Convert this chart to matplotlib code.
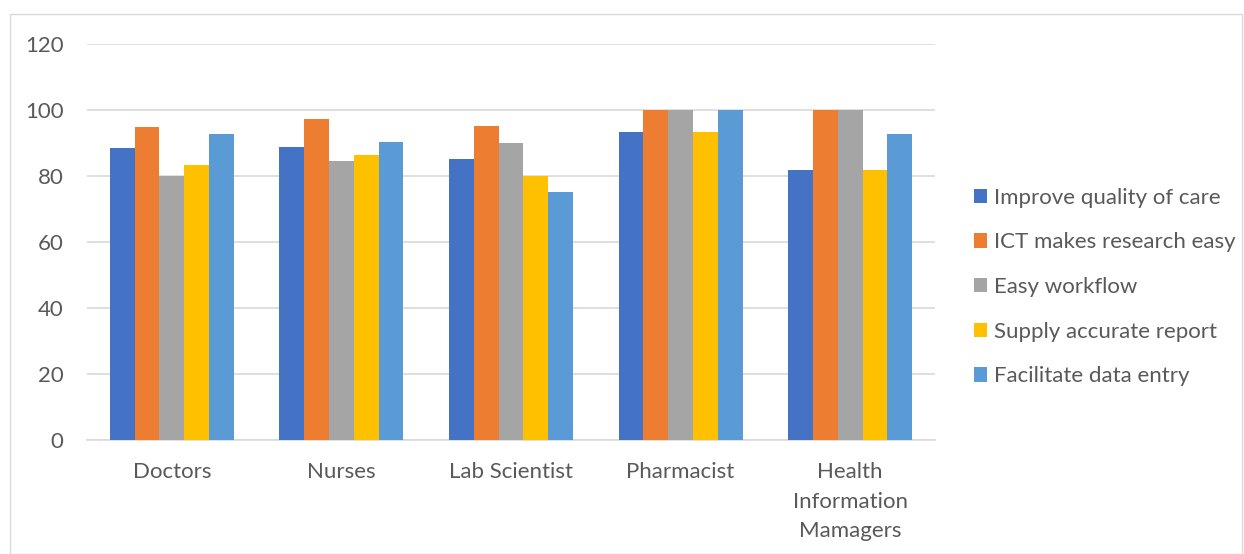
import matplotlib
matplotlib.use("Agg")
import matplotlib.pyplot as plt
import numpy as np
from matplotlib.patches import Rectangle

categories = ["Doctors", "Nurses", "Lab Scientist", "Pharmacist", "Health\nInformation\nMamagers"]
series_names = ["Improve quality of care", "ICT makes research easy", "Easy workflow",
                "Supply accurate report", "Facilitate data entry"]
improve_quality = [88.3, 88.6, 84.9, 93.2, 81.7]
ict_research = [94.6, 97.0, 95.0, 100, 100]
easy_workflow = [80.0, 84.5, 89.8, 100, 100]
accurate_report = [83.1, 86.2, 80.0, 93.2, 81.7]
data_entry = [92.5, 90.1, 75.0, 100, 92.5]
yticks = [0, 20, 40, 60, 80, 100, 120]

series = [improve_quality, ict_research, easy_workflow, accurate_report, data_entry]
colors = ["#4472C4", "#ED7D31", "#A5A5A5", "#FFC000", "#5B9BD5"]

plt.rcParams['font.family'] = ['Lato', 'DejaVu Sans']
text_color = "#595959"

fig = plt.figure(figsize=(12.44, 5.54), dpi=100)
fig.patches.append(Rectangle((10/1244, 0), 1 - 10/1244 - 2/1244, 1 - 14/554,
                             transform=fig.transFigure, fill=False,
                             edgecolor="#D9D9D9", linewidth=1.0))
ax = fig.add_axes([87/1244, 1 - 440/554, (935 - 87)/1244, (440 - 43.5)/554])

x = np.arange(len(categories))
w = 0.146
for i, (vals, name, c) in enumerate(zip(series, series_names, colors)):
    ax.bar(x + (i - 2) * w, vals, width=w, color=c, label=name, zorder=3)

ax.set_xlim(-0.5, len(categories) - 0.5)
ax.set_ylim(0, 120)
ax.set_yticks(yticks)
ax.set_xticks(x)
ax.set_xticklabels(categories, linespacing=1.6, va="top")
ax.yaxis.grid(True, color="#D9D9D9", linewidth=1.2, zorder=0)
for s in ["top", "right", "left"]:
    ax.spines[s].set_visible(False)
ax.spines["bottom"].set_color("#D9D9D9")
ax.spines["bottom"].set_linewidth(1.2)
ax.tick_params(axis="both", length=0, labelsize=16, colors=text_color)
ax.tick_params(axis="y", pad=17)
ax.tick_params(axis="x", pad=16)

leg = ax.legend(loc="center left", bbox_to_anchor=(954/1244, 1 - 287/554),
                bbox_transform=fig.transFigure, frameon=False, fontsize=16,
                handlelength=0.6, handleheight=0.6, handletextpad=0.3,
                labelspacing=1.11, labelcolor=text_color)

fig.savefig("out.png", dpi=100)
